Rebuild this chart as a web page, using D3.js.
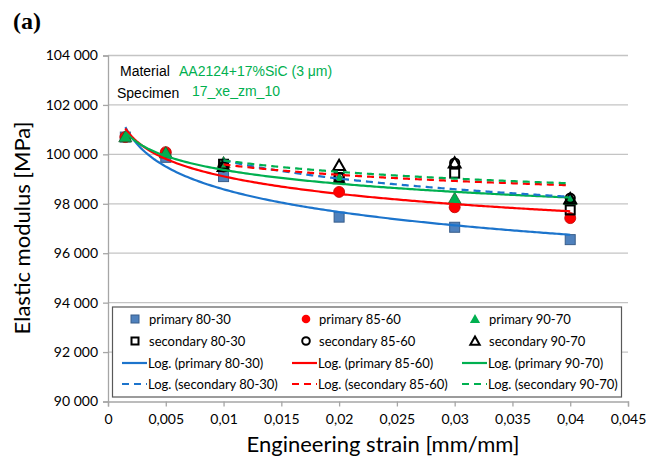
<!DOCTYPE html>
<html>
<head>
<meta charset="utf-8">
<script src="https://cdn.jsdelivr.net/npm/d3@7/dist/d3.min.js"></script>
<style>
  html, body { margin: 0; padding: 0; background: #fff; }
  svg { display: block; }
</style>
</head>
<body>
<svg id="chart" width="648" height="463"></svg>
<script>
// ---------- DATA ----------
const strainPrimary = [0.0015, 0.005, 0.01, 0.02, 0.03, 0.04];
const strainSecondary = [0.01, 0.02, 0.03, 0.04];
const primary8030 = [100700, 99880, 99100, 97460, 97050, 96550];
const primary8560 = [100700, 100090, 99510, 98480, 97860, 97420];
const primary9070 = [100700, 100050, 99650, 99000, 98200, 98160];
const secondary8030 = [99600, 99060, 99240, 97750];
const secondary8560 = [99500, 99060, 99650, 98230];
const secondary9070 = [99500, 99550, 99650, 98200];
const seriesNames = ["primary 80-30", "primary 85-60", "primary 90-70",
                     "secondary 80-30", "secondary 85-60", "secondary 90-70"];
const xTicks = [0, 0.005, 0.01, 0.015, 0.02, 0.025, 0.03, 0.035, 0.04, 0.045];
const xTickLabels = ["0", "0,005", "0,01", "0,015", "0,02", "0,025", "0,03", "0,035", "0,04", "0,045"];
const yTicks = [90000, 92000, 94000, 96000, 98000, 100000, 102000, 104000];
const yTickLabels = ["90 000", "92 000", "94 000", "96 000", "98 000", "100 000", "102 000", "104 000"];

(function () {
// ---------- SETUP ----------
const svg = d3.select("#chart");
const pLeft = 108, pRight = 628, pTop = 55.5, pBottom = 401.5;
const x = d3.scaleLinear().domain([0, 0.045]).range([pLeft, pRight]);
const y = d3.scaleLinear().domain([90000, 104000]).range([pBottom, pTop]);

const BLUE_FILL = "#4F81BD", BLUE_EDGE = "#385D8A", BLUE_LINE = "#1C74CC";
const RED = "#FF0000", GREEN = "#00B050";
const GRID = "#C4C4C4", AXIS = "#A6A6A6";
const uiFont = "Lato, 'Open Sans', sans-serif";

// gridlines
svg.append("g").selectAll("line").data(yTicks.filter(d => d > 90000)).join("line")
  .attr("x1", pLeft).attr("x2", pRight)
  .attr("y1", d => y(d)).attr("y2", d => y(d))
  .attr("stroke", GRID).attr("stroke-width", 1.3);

// axes
const yAxis = svg.append("g").attr("transform", `translate(${pLeft},0)`)
  .call(d3.axisLeft(y).tickValues(yTicks).tickFormat((d, i) => yTickLabels[i]).tickSize(5).tickPadding(5));
const xAxis = svg.append("g").attr("transform", `translate(0,${pBottom})`)
  .call(d3.axisBottom(x).tickValues(xTicks).tickFormat((d, i) => xTickLabels[i]).tickSize(5).tickPadding(8));
[yAxis, xAxis].forEach(g => {
  g.select(".domain").attr("stroke", AXIS).attr("stroke-width", 1.3);
  g.selectAll(".tick line").attr("stroke", AXIS).attr("stroke-width", 1.3);
  g.selectAll(".tick text").attr("fill", "#000").style("font-family", uiFont).style("font-size", "14px");
});

// axis titles
svg.append("text").attr("x", 383).attr("y", 452).attr("text-anchor", "middle")
  .style("font-family", uiFont).style("font-size", "22px").text("Engineering strain [mm/mm]");
svg.append("text").attr("transform", "translate(30,228) rotate(-90)").attr("text-anchor", "middle")
  .style("font-family", uiFont).style("font-size", "22px").text("Elastic modulus [MPa]");

// panel label
svg.append("text").attr("x", 13).attr("y", 29)
  .style("font-family", "'Liberation Serif', 'Times New Roman', serif").style("font-weight", "bold")
  .style("font-size", "24px").text("(a)");

// annotation
const annFont = "'Liberation Sans', Arial, sans-serif";
svg.append("text").attr("x", 120).attr("y", 76).style("font-family", annFont).style("font-size", "14px").text("Material");
svg.append("text").attr("x", 179).attr("y", 76).style("font-family", annFont).style("font-size", "14px").attr("fill", GREEN).text("AA2124+17%SiC (3 μm)");
svg.append("text").attr("x", 117).attr("y", 98).style("font-family", annFont).style("font-size", "14px").text("Specimen");
svg.append("text").attr("x", 192).attr("y", 96).style("font-family", annFont).style("font-size", "14px").attr("fill", GREEN).text("17_xe_zm_10");

// ---------- LOG TRENDLINES (least squares y = a ln x + b) ----------
function logFit(xs, ys) {
  const lx = xs.map(Math.log);
  const mx = d3.mean(lx), my = d3.mean(ys);
  let sxy = 0, sxx = 0;
  lx.forEach((v, i) => { sxy += (v - mx) * (ys[i] - my); sxx += (v - mx) ** 2; });
  const a = sxy / sxx, b = my - a * mx;
  return t => a * Math.log(t) + b;
}
const line = d3.line().x(d => x(d[0])).y(d => y(d[1]));
function trend(xs, ys, color, dashed) {
  const f = logFit(xs, ys);
  const x0 = d3.min(xs), x1 = d3.max(xs);
  const pts = d3.range(0, 201).map(i => { const t = x0 + (x1 - x0) * i / 200; return [t, f(t)]; });
  return { pts, color, dashed };
}

// ---------- MARKERS ----------
const mk = svg.append("g");
function drawSquares(xs, ys, fill, stroke, sw, s) {
  mk.append("g").selectAll("rect").data(xs.map((v, i) => [v, ys[i]])).join("rect")
    .attr("x", d => x(d[0]) - s / 2).attr("y", d => y(d[1]) - s / 2)
    .attr("width", s).attr("height", s)
    .attr("fill", fill).attr("stroke", stroke).attr("stroke-width", sw);
}
function drawCircles(xs, ys, fill, stroke, sw, r) {
  mk.append("g").selectAll("circle").data(xs.map((v, i) => [v, ys[i]])).join("circle")
    .attr("cx", d => x(d[0])).attr("cy", d => y(d[1])).attr("r", r)
    .attr("fill", fill).attr("stroke", stroke).attr("stroke-width", sw);
}
const tri = d3.symbol().type(d3.symbolTriangle);
function drawTriangles(xs, ys, fill, stroke, sw, size) {
  mk.append("g").selectAll("path").data(xs.map((v, i) => [v, ys[i]])).join("path")
    .attr("transform", d => `translate(${x(d[0])},${y(d[1]) + 1})`)
    .attr("d", tri.size(size)())
    .attr("fill", fill).attr("stroke", stroke).attr("stroke-width", sw);
}
drawSquares(strainPrimary, primary8030, BLUE_FILL, BLUE_EDGE, 1, 10);
drawCircles(strainPrimary, primary8560, RED, "#C00000", 0.8, 5.5);
drawTriangles(strainPrimary, primary9070, GREEN, "#1E5E2E", 0.8, 75);
drawSquares(strainSecondary, secondary8030, "none", "#000", 2, 9);
drawCircles(strainSecondary, secondary8560, "none", "#000", 2, 4.6);
drawTriangles(strainSecondary, secondary9070, "none", "#000", 2, 60);

// trendlines on top
const trends = [
  trend(strainPrimary, primary8030, BLUE_LINE, false),
  trend(strainPrimary, primary8560, RED, false),
  trend(strainPrimary, primary9070, GREEN, false),
  trend(strainSecondary, secondary8030, BLUE_LINE, true),
  trend(strainSecondary, secondary8560, RED, true),
  trend(strainSecondary, secondary9070, GREEN, true)
];
svg.append("g").selectAll("path").data(trends).join("path")
  .attr("d", d => line(d.pts)).attr("fill", "none")
  .attr("stroke", d => d.color).attr("stroke-width", 2.2)
  .attr("stroke-dasharray", d => d.dashed ? "7,5" : null);

// ---------- LEGEND ----------
const lg = svg.append("g");
lg.append("rect").attr("x", 112.5).attr("y", 307).attr("width", 509).attr("height", 90)
  .attr("fill", "#fff").attr("stroke", "#595959").attr("stroke-width", 1.2);
const colX = [122, 292, 462];
const rowY = [319, 341, 363, 384];
const colors = [[BLUE_FILL, BLUE_EDGE, BLUE_LINE], [RED, "#C00000", RED], [GREEN, "#1E5E2E", GREEN]];
for (let c = 0; c < 3; c++) {
  const cx = colX[c];
  const mx = cx + 13 + (c === 1 ? 1 : 0);
  if (c === 0) lg.append("rect").attr("x", mx - 4).attr("y", rowY[0] - 4).attr("width", 8).attr("height", 8).attr("fill", BLUE_FILL).attr("stroke", BLUE_EDGE);
  if (c === 1) lg.append("circle").attr("cx", mx).attr("cy", rowY[0]).attr("r", 4.3).attr("fill", RED);
  if (c === 2) lg.append("path").attr("transform", `translate(${mx},${rowY[0] + 1})`).attr("d", tri.size(45)()).attr("fill", GREEN);
  if (c === 0) lg.append("rect").attr("x", mx - 3.5).attr("y", rowY[1] - 3.5).attr("width", 7).attr("height", 7).attr("fill", "none").attr("stroke", "#000").attr("stroke-width", 2);
  if (c === 1) lg.append("circle").attr("cx", mx).attr("cy", rowY[1]).attr("r", 3.8).attr("fill", "none").attr("stroke", "#000").attr("stroke-width", 2);
  if (c === 2) lg.append("path").attr("transform", `translate(${mx},${rowY[1] + 1})`).attr("d", tri.size(38)()).attr("fill", "none").attr("stroke", "#000").attr("stroke-width", 2);
  lg.append("line").attr("x1", cx).attr("x2", cx + 25).attr("y1", rowY[2]).attr("y2", rowY[2])
    .attr("stroke", colors[c][2]).attr("stroke-width", 2.2);
  lg.append("line").attr("x1", cx).attr("x2", cx + 25).attr("y1", rowY[3]).attr("y2", rowY[3])
    .attr("stroke", colors[c][2]).attr("stroke-width", 2.2).attr("stroke-dasharray", "7,5");
  const labels = [seriesNames[c], seriesNames[c + 3], `Log. (${seriesNames[c]})`, `Log. (${seriesNames[c + 3]})`];
  labels.forEach((t, r) => {
    lg.append("text").attr("x", cx + (r < 2 ? 27 : 26)).attr("y", rowY[r]).attr("dy", "0.35em")
      .style("font-family", uiFont).style("font-size", "13px").text(t);
  });
}
})();
</script>
</body>
</html>
